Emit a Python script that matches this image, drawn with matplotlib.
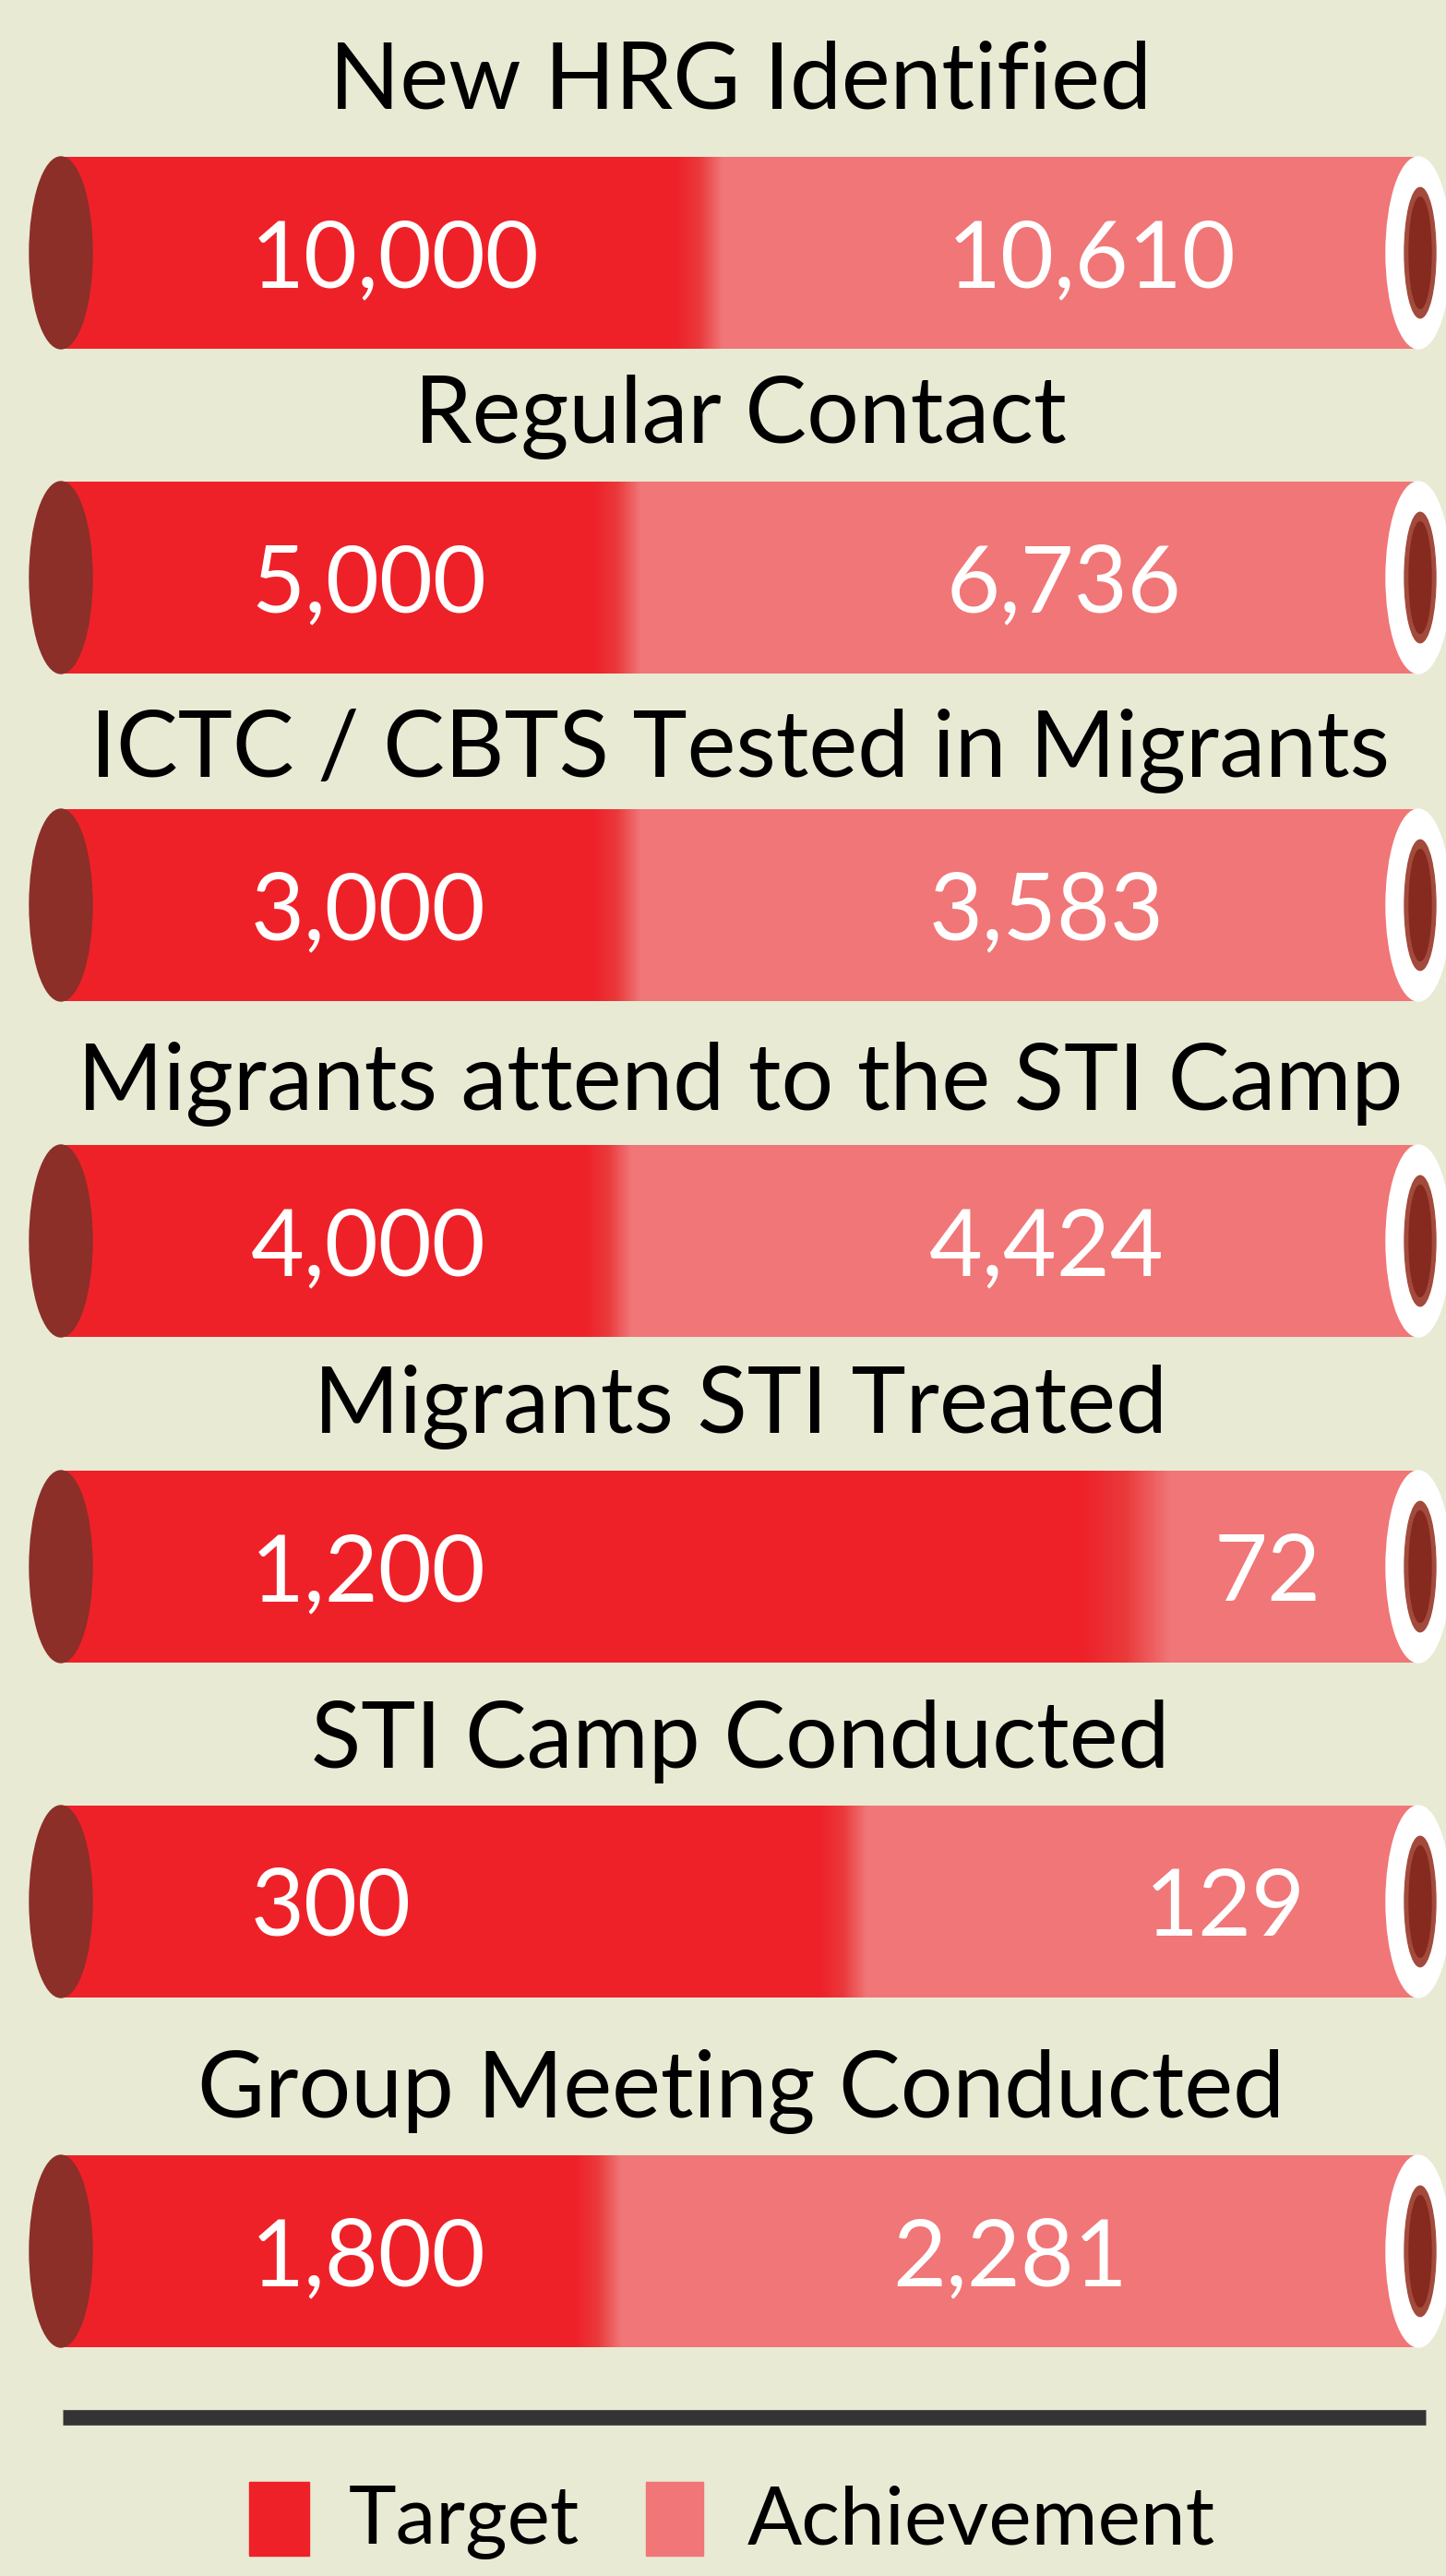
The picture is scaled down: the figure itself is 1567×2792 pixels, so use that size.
import numpy as np
import matplotlib.pyplot as plt
from matplotlib.patches import Ellipse, Rectangle
from matplotlib.colors import LinearSegmentedColormap

plt.rcParams['font.family'] = ['Lato', 'DejaVu Sans']

categories = [
    "New HRG Identified",
    "Regular Contact",
    "ICTC / CBTS Tested in Migrants",
    "Migrants attend to the STI Camp",
    "Migrants STI Treated",
    "STI Camp Conducted",
    "Group Meeting Conducted",
]
target = [10000, 5000, 3000, 4000, 1200, 300, 1800]
achievement = [10610, 6736, 3583, 4424, 72, 129, 2281]
# percent of each tube painted as target
target_share = [47.0, 40.9, 40.9, 40.2, 78.4, 57.6, 39.5]

# layout (pixels of the 1567x2792 canvas)
W, H = 1567, 2792
bar_y = [274, 626, 981, 1345, 1698, 2061, 2440]
title_base = [117, 480, 842, 1203, 1553, 1916, 2295]
ach_right = [1340, 1280, 1262, 1262, 1432, 1415, 1222]
bar_h = 208
x0 = 68
px = 14.69  # pixels per percent


def ux(p):
    return (p - x0) / px


bg = '#E8EAD4'
red = '#EE2129'
pink = '#F07677'
cap_dark = '#8B2F28'
inner = '#86291E'

fig = plt.figure(figsize=(W / 100, H / 100), dpi=100, facecolor=bg)
ax = fig.add_axes([0, 0, 1, 1])
ax.set_facecolor(bg)
ax.axis('off')

blend = LinearSegmentedColormap.from_list('blend', [red, '#EA3A3C', pink])
grad = np.linspace(0, 1, 256).reshape(1, -1)

for i, name in enumerate(categories):
    yc = bar_y[i]
    s = target_share[i]
    ax.barh(yc, s, height=bar_h, left=0, color=red, zorder=2)
    ax.barh(yc, 100 - s, height=bar_h, left=s, color=pink, zorder=2)
    gw = 3.2 if s > 70 else 1.7
    ax.imshow(grad, cmap=blend, extent=[s - gw, s + gw, yc + bar_h / 2, yc - bar_h / 2],
              aspect='auto', interpolation='bilinear', zorder=2.5)

    # tube ends
    ax.add_patch(Ellipse((ux(66), yc), 68 / px, bar_h, color=cap_dark, zorder=3))
    ax.add_patch(Ellipse((100, yc), 70 / px, bar_h, color='white', zorder=3))
    ax.add_patch(Ellipse((ux(1539), yc), 34 / px, bar_h * 0.68, color='#A24A3C', zorder=3.1))
    ax.add_patch(Ellipse((ux(1539), yc), 24 / px, bar_h * 0.58, color=inner, zorder=3.2))

    ax.text(50, title_base[i], name, ha='center', va='baseline', fontsize=72, color='black')
    ax.text(ux(272), yc, f"{target[i]:,}", ha='left', va='center_baseline',
            fontsize=72, color='white', zorder=4)
    ax.text(ux(ach_right[i]), yc, f"{achievement[i]:,}", ha='right', va='center_baseline',
            fontsize=72, color='white', zorder=4)

# divider
ax.plot([ux(68), ux(1545)], [2620, 2620], color='#333333', lw=12, solid_capstyle='butt')

# legend
ax.add_patch(Rectangle((ux(270), 2690), 65 / px, 80, color=red))
ax.text(ux(378), 2757, "Target", ha='left', va='baseline', fontsize=63, color='black')
ax.add_patch(Rectangle((ux(700), 2690), 62 / px, 80, color=pink))
ax.text(ux(810), 2757, "Achievement", ha='left', va='baseline', fontsize=63, color='black')

ax.set_xlim(-x0 / px, (W - x0) / px)
ax.set_ylim(H, 0)

fig.savefig('out.png', dpi=100, facecolor=bg)
